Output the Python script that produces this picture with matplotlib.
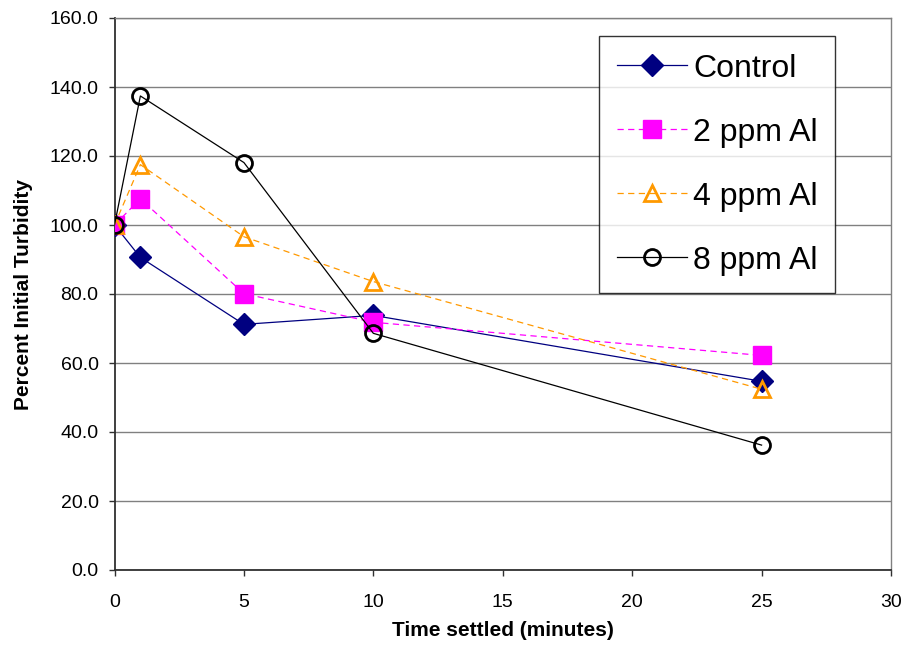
import matplotlib.pyplot as plt

plt.rcParams['font.family'] = ['Liberation Sans', 'DejaVu Sans']

# Data
time_min = [0, 1, 5, 10, 25]
control = [100.0, 90.6, 71.2, 73.8, 54.7]
al_2ppm = [100.0, 107.6, 80.1, 71.8, 62.2]
al_4ppm = [100.0, 117.5, 96.6, 83.6, 52.4]
al_8ppm = [100.0, 137.4, 118.1, 68.6, 36.2]

W, H = 907, 653
fig = plt.figure(figsize=(W / 100, H / 100), dpi=100)
ax = fig.add_axes([114.5 / W, 1 - 570 / H, (891 - 114.5) / W, (570 - 18) / H])

dash = (0, (5, 3.5))
ax.plot(time_min, control, color='#000080', lw=0.9, marker='D', ms=11.5,
        mfc='#000080', mec='#000080', label='Control', zorder=3)
ax.plot(time_min, al_2ppm, color='#FF00FF', lw=0.9, ls=dash, marker='s', ms=12.5,
        mfc='#FF00FF', mec='#FF00FF', label='2 ppm Al', zorder=3)
ax.plot(time_min, al_4ppm, color='#FF9900', lw=0.9, ls=dash, marker='^', ms=12,
        mfc='none', mec='#FF9900', mew=2, label='4 ppm Al', zorder=3)
ax.plot(time_min, al_8ppm, color='black', lw=0.9, marker='o', ms=11.5,
        mfc='none', mec='black', mew=2, label='8 ppm Al', zorder=3)

ax.set_xlim(0, 30)
ax.set_ylim(0, 160)
ax.set_xticks(range(0, 31, 5))
ax.set_yticks(range(0, 161, 20))
ax.set_yticklabels([f'{v:.1f}' for v in range(0, 161, 20)])
ax.tick_params(labelsize=14, direction='out', length=4.5, width=1, color='#303030')
ax.tick_params(axis='x', pad=13)
ax.tick_params(axis='y', pad=7)
ax.grid(axis='y', color='#808080', lw=1)
ax.set_axisbelow(True)
for s in ['top', 'right']:
    ax.spines[s].set_color('#808080')
    ax.spines[s].set_linewidth(1)
for s in ['left', 'bottom']:
    ax.spines[s].set_color('#303030')
    ax.spines[s].set_linewidth(1.3)

ax.set_xlabel('Time settled (minutes)', fontsize=15, fontweight='bold', labelpad=7)
ax.set_ylabel('Percent Initial Turbidity', fontsize=15, fontweight='bold', labelpad=12)

leg = ax.legend(loc='upper left', bbox_to_anchor=(599 / W, 1 - 36 / H),
                bbox_transform=fig.transFigure, borderaxespad=0,
                fontsize=23, frameon=True, fancybox=False, edgecolor='black',
                borderpad=0.55, labelspacing=1.065, handlelength=2.2, handletextpad=0.2,
                markerscale=1)
leg.get_frame().set_linewidth(1)

fig.savefig('out.png', dpi=100)
